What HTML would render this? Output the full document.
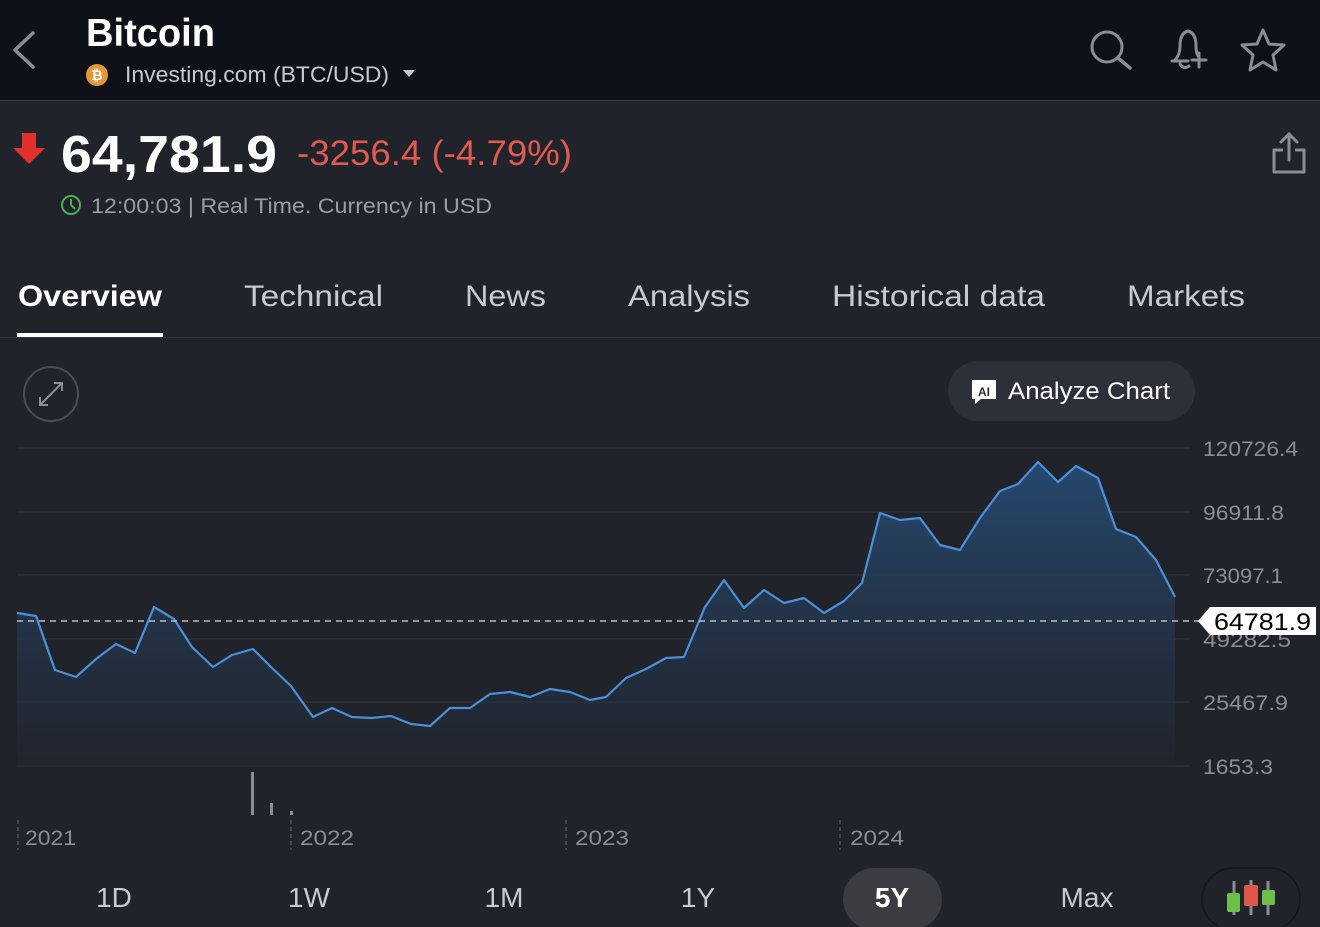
<!DOCTYPE html>
<html><head><meta charset="utf-8"><style>
html,body{margin:0;padding:0;background:#21232a;width:1320px;height:927px;overflow:hidden}
svg{display:block;font-family:"Liberation Sans",Arial,sans-serif}
</style></head><body>
<svg width="1320" height="927" viewBox="0 0 1320 927" xmlns="http://www.w3.org/2000/svg">
<defs>
<linearGradient id="g" x1="0" y1="0" x2="0" y2="1">
<stop offset="0" stop-color="#264b73" stop-opacity="0.95"/>
<stop offset="1" stop-color="#21262f" stop-opacity="0.6"/>
</linearGradient>
</defs>
<rect width="1320" height="927" fill="#21232a"/>
<rect width="1320" height="100" fill="#0f1118"/>
<line x1="0" y1="100.5" x2="1320" y2="100.5" stroke="#3a3d45" stroke-width="1"/>
<polyline points="33,33 15,50 33,67" fill="none" stroke="#8a8d94" stroke-width="3.5" stroke-linecap="round" stroke-linejoin="round"/>
<text x="86" y="46" font-size="39" font-weight="bold" fill="#ffffff" textLength="129" lengthAdjust="spacingAndGlyphs">Bitcoin</text>
<circle cx="97" cy="75" r="11" fill="#e8963a"/>
<text x="97" y="80" font-size="14" font-weight="bold" fill="#fff" text-anchor="middle">₿</text>
<text x="125" y="82" font-size="22" fill="#c8cad0" textLength="264" lengthAdjust="spacingAndGlyphs">Investing.com (BTC/USD)</text>
<polygon points="403,70 415,70 409,77" fill="#c8cad0"/>
<circle cx="1107" cy="47" r="15" fill="none" stroke="#8a8d94" stroke-width="3"/>
<line x1="1118" y1="58" x2="1130" y2="68" stroke="#8a8d94" stroke-width="3.5" stroke-linecap="round"/>
<path d="M1175,60 q5,-5 5,-14 q0,-13 8,-15 q8,2 8,15 q0,8 3,11 M1172,61 h16 M1180,64 q4,6 9,2" fill="none" stroke="#8a8d94" stroke-width="3" stroke-linecap="round"/>
<path d="M1199,53 v14 M1192,60 h14" stroke="#8a8d94" stroke-width="3" stroke-linecap="round"/>
<polygon points="1263,30 1269,44 1284,45 1273,55 1276,70 1263,62 1250,70 1253,55 1242,45 1257,44" fill="none" stroke="#8a8d94" stroke-width="3" stroke-linejoin="round"/>
<polygon points="22,133 36,133 36,148 45,148 29,164 13,148 22,148" fill="#e0322a"/>
<text x="61" y="172" font-size="52" font-weight="bold" fill="#ffffff" textLength="216" lengthAdjust="spacingAndGlyphs">64,781.9</text>
<text x="297" y="165" font-size="35" fill="#e05a50" textLength="275" lengthAdjust="spacingAndGlyphs">-3256.4 (-4.79%)</text>
<circle cx="71" cy="205" r="9" fill="none" stroke="#4caf50" stroke-width="2"/>
<path d="M71,199 v6 l4,4" fill="none" stroke="#4caf50" stroke-width="2"/>
<text x="91" y="213" font-size="21" fill="#9a9da4" textLength="401" lengthAdjust="spacingAndGlyphs">12:00:03 | Real Time. Currency in USD</text>
<path d="M1283,150 h-9 v22 h30 v-22 h-9" fill="none" stroke="#8a8d94" stroke-width="3" stroke-linejoin="round"/>
<path d="M1289,160 v-26 M1281,142 l8,-8 8,8" fill="none" stroke="#8a8d94" stroke-width="3" stroke-linecap="round"/>
<g font-size="30" fill="#c8cad0" lengthAdjust="spacingAndGlyphs">
<text x="18" y="306" fill="#ffffff" font-weight="bold" textLength="144" lengthAdjust="spacingAndGlyphs">Overview</text>
<text x="244" y="306" textLength="139" lengthAdjust="spacingAndGlyphs">Technical</text>
<text x="465" y="306" textLength="81" lengthAdjust="spacingAndGlyphs">News</text>
<text x="628" y="306" textLength="122" lengthAdjust="spacingAndGlyphs">Analysis</text>
<text x="832" y="306" textLength="213" lengthAdjust="spacingAndGlyphs">Historical data</text>
<text x="1127" y="306" textLength="118" lengthAdjust="spacingAndGlyphs">Markets</text>
</g>
<rect x="17" y="333" width="146" height="4" fill="#ffffff"/>
<line x1="0" y1="337.5" x2="1320" y2="337.5" stroke="#30333b" stroke-width="1"/>
<circle cx="51" cy="394" r="27" fill="none" stroke="#4a4d55" stroke-width="2"/>
<path d="M40,405 l22,-22 M54,383 h8 v8 M40,397 v8 h8" fill="none" stroke="#8a8d94" stroke-width="2"/>
<rect x="948" y="361" width="247" height="60" rx="30" fill="#2d3038"/>
<path d="M972,380 h24 v19 h-15 l-6,5 v-5 h-3 z" fill="#ffffff"/>
<text x="984" y="396" font-size="12" font-weight="bold" fill="#2d3038" text-anchor="middle">AI</text>
<text x="1008" y="399" font-size="24" fill="#ffffff" textLength="162" lengthAdjust="spacingAndGlyphs">Analyze Chart</text>
<g stroke="#2e3139" stroke-width="1.5">
<line x1="17" y1="448" x2="1190" y2="448"/>
<line x1="17" y1="512" x2="1190" y2="512"/>
<line x1="17" y1="575" x2="1190" y2="575"/>
<line x1="17" y1="639" x2="1190" y2="639"/>
<line x1="17" y1="702" x2="1190" y2="702"/>
<line x1="17" y1="766" x2="1190" y2="766"/>
</g>
<polygon fill="url(#g)" points="17,766 17,613 36,616 55,670 76,677 96,659 116,644 135,653 154,607 174,619 192,647 213,667 232,655 253,649 272,668 291,686 313,717 332,708 352,717 372,718 391,716 411,724 430,726 450,708 470,708 490,694 510,692 530,697 550,689 570,692 590,700 606,697 626,678 646,669 666,658 684,657 705,607 724,580 744,608 764,590 784,603 804,598 824,613 844,601 862,583 880,513 900,520 920,518 940,545 960,550 980,518 1000,491 1018,484 1038,462 1058,482 1076,466 1098,478 1116,529 1136,537 1156,560 1175,597 1175,766"/>
<polyline fill="none" stroke="#4a90d9" stroke-width="2.2" stroke-linejoin="round" points="17,613 36,616 55,670 76,677 96,659 116,644 135,653 154,607 174,619 192,647 213,667 232,655 253,649 272,668 291,686 313,717 332,708 352,717 372,718 391,716 411,724 430,726 450,708 470,708 490,694 510,692 530,697 550,689 570,692 590,700 606,697 626,678 646,669 666,658 684,657 705,607 724,580 744,608 764,590 784,603 804,598 824,613 844,601 862,583 880,513 900,520 920,518 940,545 960,550 980,518 1000,491 1018,484 1038,462 1058,482 1076,466 1098,478 1116,529 1136,537 1156,560 1175,597"/>
<line x1="17" y1="621" x2="1200" y2="621" stroke="#b8bbc2" stroke-width="1.5" stroke-dasharray="6,5"/>
<g font-size="21" fill="#8a8d94">
<text x="1203" y="456" textLength="95" lengthAdjust="spacingAndGlyphs">120726.4</text>
<text x="1203" y="520" textLength="81" lengthAdjust="spacingAndGlyphs">96911.8</text>
<text x="1203" y="583" textLength="80" lengthAdjust="spacingAndGlyphs">73097.1</text>
<text x="1203" y="647" textLength="88" lengthAdjust="spacingAndGlyphs">49282.5</text>
<text x="1203" y="710" textLength="85" lengthAdjust="spacingAndGlyphs">25467.9</text>
<text x="1203" y="774" textLength="70" lengthAdjust="spacingAndGlyphs">1653.3</text>
</g>
<polygon points="1198,621 1210,607 1316,607 1316,635 1210,635" fill="#ffffff"/>
<text x="1214" y="630" font-size="24" fill="#000" textLength="97" lengthAdjust="spacingAndGlyphs">64781.9</text>
<rect x="251" y="772" width="3" height="43" fill="#8a8d94"/>
<rect x="270" y="803" width="3" height="12" fill="#8a8d94"/>
<rect x="290" y="811" width="3" height="4" fill="#8a8d94"/>
<g stroke="#6a6d74" stroke-width="1" stroke-dasharray="4,3">
<line x1="18" y1="820" x2="18" y2="850"/>
<line x1="291" y1="820" x2="291" y2="850"/>
<line x1="566" y1="820" x2="566" y2="850"/>
<line x1="840" y1="820" x2="840" y2="850"/>
</g>
<g font-size="21" fill="#8a8d94">
<text x="25" y="845" textLength="51" lengthAdjust="spacingAndGlyphs">2021</text>
<text x="300" y="845" textLength="54" lengthAdjust="spacingAndGlyphs">2022</text>
<text x="575" y="845" textLength="54" lengthAdjust="spacingAndGlyphs">2023</text>
<text x="850" y="845" textLength="54" lengthAdjust="spacingAndGlyphs">2024</text>
</g>
<rect x="843" y="868" width="99" height="62" rx="31" fill="#3a3c42"/>
<g font-size="28" fill="#c8cad0" text-anchor="middle">
<text x="114" y="907">1D</text>
<text x="309" y="907">1W</text>
<text x="504" y="907">1M</text>
<text x="698" y="907">1Y</text>
<text x="892" y="907" fill="#ffffff" font-weight="bold">5Y</text>
<text x="1087" y="907">Max</text>
</g>
<rect x="1202" y="868" width="98" height="62" rx="31" fill="none" stroke="#15171c" stroke-width="1.5"/>
<g stroke="#8a8d94" stroke-width="3"><line x1="1234" y1="881" x2="1234" y2="915"/><line x1="1251" y1="880" x2="1251" y2="915"/><line x1="1268" y1="881" x2="1268" y2="915"/></g>
<rect x="1227" y="893" width="13" height="19" rx="2" fill="#6cc04a"/>
<rect x="1244" y="885" width="14" height="21" rx="2" fill="#e0574a"/>
<rect x="1262" y="890" width="13" height="15" rx="2" fill="#6cc04a"/>
</svg>
</body></html>
